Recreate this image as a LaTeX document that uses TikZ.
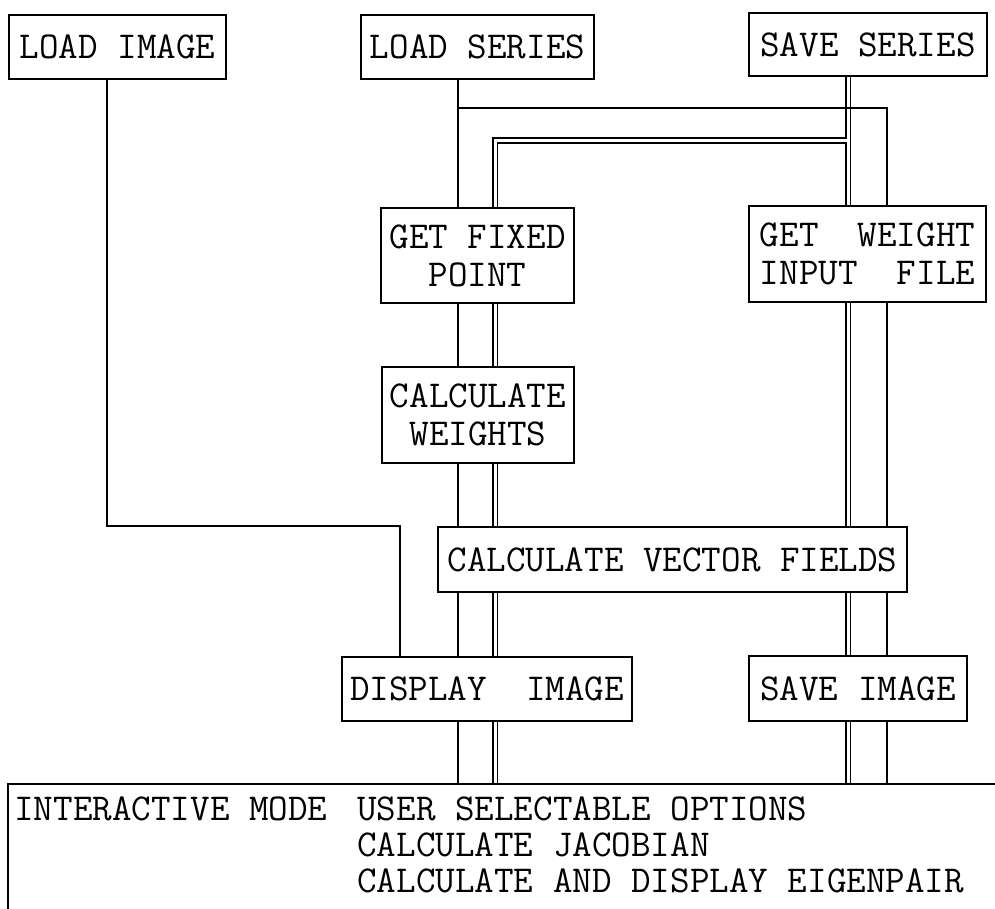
\documentclass[tikz,border=0pt]{standalone}
\usepackage{fontspec}
\usepackage{tikz}
\usetikzlibrary{positioning}
\tikzset{
  box/.style={draw,line width=0.9pt,inner sep=0pt,align=center},
  wire/.style={line width=0.9pt},
  bus/.style={line width=0.7pt}
}

\begin{document}
\begin{tikzpicture}[x=0.5pt,y=-0.5pt,font=\ttfamily\fontsize{19}{19}\selectfont]
\useasboundingbox (0,0) rectangle (995,909);
\foreach \n/\x/\y/\w/\h/\t in {li/117.5/47/217/64/{LOAD IMAGE}, ls/477.5/47/233/64/{LOAD SERIES},
  ss/868/44.5/238/63/{SAVE SERIES}, fp/477.5/255.5/193/95/{GET FIXED\\POINT},
  gw/867.5/254/237/96/{GET\ \ WEIGHT\\INPUT\ \ FILE}, cw/478/415/192/96/{CALCULATE\\WEIGHTS},
  vf/672.5/559.5/469/65/{CALCULATE VECTOR FIELDS}, di/487/689/290/64/{DISPLAY\ \ IMAGE},
  si/858/688.5/218/65/{SAVE IMAGE}}
  \node[box,minimum width=\w*0.5pt,minimum height=\h*0.5pt] (\n) at (\x,\y) {\t};
% interactive mode panel, cut off by the page edge
\node[minimum width=987*0.5pt,minimum height=125*0.5pt,inner sep=0pt] (im) at (501.5,846.5) {};
\draw[wire] (im.north east) -- (im.north west) -- (im.south west);
\node[anchor=west,inner sep=0pt] (mode) at (14,809) {INTERACTIVE MODE};
\node[anchor=west,inner sep=0pt] (opt1) at (357,809) {USER SELECTABLE OPTIONS};
\node[anchor=west,inner sep=0pt] (opt2) at (357,845) {CALCULATE JACOBIAN};
\node[anchor=west,inner sep=0pt] (opt3) at (357,881) {CALCULATE AND DISPLAY EIGENPAIR};
% line positions
\coordinate (a) at (458,0); \coordinate (b) at (887,0);
\coordinate (p1) at (493,0); \coordinate (p2) at (497.5,0);
\coordinate (q1) at (846,0); \coordinate (q2) at (850.5,0);
\coordinate (l) at (107,0); \coordinate (m) at (400,0);
\coordinate (t1) at (0,108); \coordinate (r1) at (0,138); \coordinate (r2) at (0,143);
\draw[wire] (li.south -| l) |- (vf.north -| m) -- (di.north -| m);
\draw[wire] (ls.south -| a) -- (fp.north -| a);
\draw[wire] (t1 -| a) -| (gw.north -| b);
\draw[bus] (ss.south -| q1) |- (r1 -| p1) -- (fp.north -| p1);
\draw[bus] (fp.north -| p2) |- (r2 -| q1) -- (gw.north -| q1);
\draw[bus] (ss.south -| q2) -- (gw.north -| q2);
\foreach \u/\v in {fp/cw, cw/vf, vf/di, di/im}{
  \draw[wire] (\u.south -| a) -- (\v.north -| a);
  \draw[bus] (\u.south -| p1) -- (\v.north -| p1);
  \draw[bus] (\u.south -| p2) -- (\v.north -| p2);}
\foreach \u/\v in {gw/vf, vf/si, si/im}{
  \draw[wire] (\u.south -| b) -- (\v.north -| b);
  \draw[bus] (\u.south -| q1) -- (\v.north -| q1);
  \draw[bus] (\u.south -| q2) -- (\v.north -| q2);}
\end{tikzpicture}
\end{document}
